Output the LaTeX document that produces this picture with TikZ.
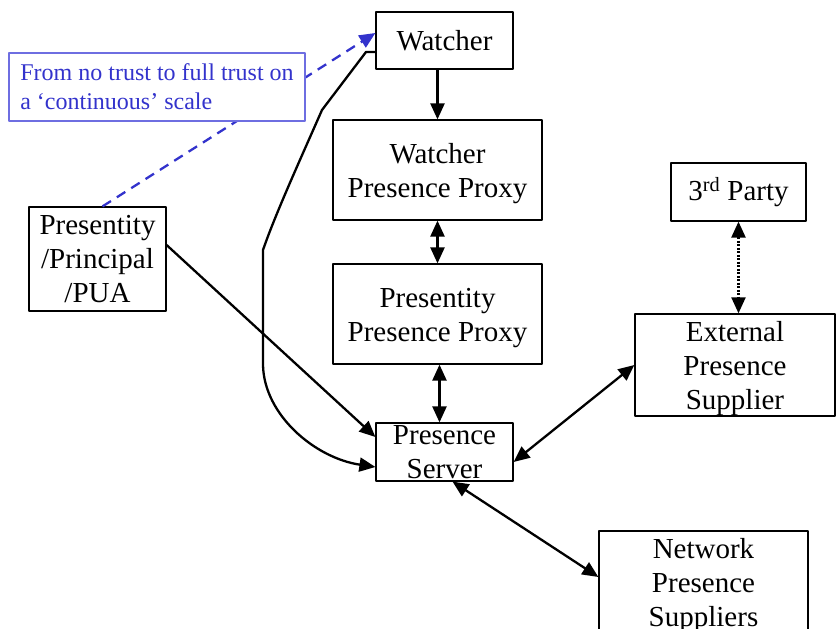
\documentclass[tikz,border=0pt]{standalone}
\usepackage{fontspec}
\setmainfont{Liberation Serif}
\usetikzlibrary{arrows.meta,calc}
\definecolor{trustblue}{RGB}{51,51,204}
\definecolor{trustframe}{RGB}{110,110,225}
\newcommand\boxstrut{\rule{0pt}{28pt}}

\begin{document}
\begin{tikzpicture}[x=1pt,y=-1pt,line join=round,
  box/.style={draw,line width=1.2pt,inner sep=0pt,align=center,font=\fontsize{29}{34}\selectfont},
  arr/.style={line width=2.3pt,-{Triangle[length=16pt,width=14pt]}},
  darr/.style={line width=2.3pt,{Triangle[length=16pt,width=14pt]}-{Triangle[length=16pt,width=14pt]}}]
\useasboundingbox (0,0) rectangle (836,629);

\node[box,minimum width=137,minimum height=57] (wat) at (444.5,40.5) {Watcher};
\node[box,minimum width=209,minimum height=100] (wpp) at (437.5,170) {\boxstrut Watcher\\Presence Proxy};
\node[box,minimum width=209,minimum height=100] (ppp) at (437.5,314) {\boxstrut Presentity\\Presence Proxy};
\node[box,minimum width=137,minimum height=58] (ps) at (444.5,452) {Presence\\Server};
\node[box,minimum width=135,minimum height=58] (third) at (738.5,192) {3\textsuperscript{rd} Party};
\node[box,minimum width=200,minimum height=100] (ext) at (735,365) {\boxstrut External\\Presence\\Supplier};
\node[box,minimum width=209,minimum height=102] (net) at (703.5,582) {\boxstrut Network\\Presence\\Suppliers};
\node[box,minimum width=137,minimum height=104] (pres) at (97.5,259) {Presentity\\/Principal\\/PUA};

% trust scale
\draw[trustblue,line width=2.3pt,dash pattern=on 10pt off 7pt,-{Triangle[length=16pt,width=14pt]}] ([xshift=5pt]pres.north) -- ([yshift=7.5pt]wat.west);
\node[draw=trustframe,line width=1.2pt,fill=white,text=trustblue,font=\fontsize{24}{29}\selectfont,
  align=left,inner xsep=9pt,inner ysep=0pt,minimum width=296,minimum height=68] (trust) at (157,87)
  {From no trust to full trust on\\a ‘continuous’ scale};

\draw[arr] (wat.south -| wpp.north) -- (wpp.north);
\draw[darr] (wpp.south) -- (ppp.north);
\draw[darr] ([xshift=2pt]ppp.south) -- ([xshift=2pt]ppp.south |- ps.north);
\draw[darr,dash pattern=on 2pt off 1.5pt] (third.south) -- (third.south |- ext.north);
\draw[darr] (ext.west) -- ([yshift=-10pt]ps.east);
\draw[darr] ([xshift=8pt]ps.south) -- ([yshift=5pt]net.west);
\draw[arr] ([yshift=14pt]pres.east) -- ([yshift=15pt]ps.west);
\draw[arr] ([yshift=-11.5pt]wat.west) -- (366,52) -- (322,110) .. controls (300,160) and (275,215) .. (263,250)
  -- (263,365) .. controls (264,415) and (315,458) .. ([yshift=-15pt]ps.west);
\end{tikzpicture}
\end{document}
